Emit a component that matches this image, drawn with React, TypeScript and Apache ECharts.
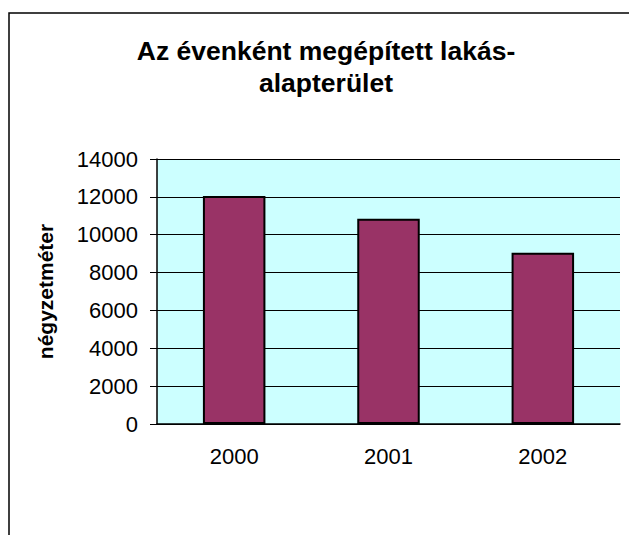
import React, { useEffect, useRef } from "react";
import * as echarts from "echarts";

const categories = ["2000", "2001", "2002"];
const areaValues = [12050, 10850, 9050];
const titleText = "Az évenként megépített lakás-\nalapterület";
const yAxisName = "négyzetméter";

const FONT = "'Liberation Sans', Arial, sans-serif";

export default function App() {
  const ref = useRef<HTMLDivElement>(null);
  useEffect(() => {
    if (!ref.current) return;
    const chart = echarts.init(ref.current, undefined, { renderer: "svg" });
    chart.setOption({
      animation: false,
      backgroundColor: "#ffffff",
      title: {
        text: titleText,
        left: 321,
        top: 30,
        textAlign: "center",
        textStyle: {
          fontFamily: FONT,
          fontSize: 26.5,
          fontWeight: "bold",
          color: "#000",
          lineHeight: 32,
        },
      },
      graphic: [
        {
          type: "rect",
          shape: { x: 9, y: 13, width: 700, height: 700 },
          style: { fill: "none", stroke: "#000", lineWidth: 1.5 },
          silent: true,
          z: -1,
        },
      ],
      grid: {
        left: 157,
        right: 9,
        top: 159,
        bottom: 111,
        show: true,
        backgroundColor: "#CCFFFF",
        borderWidth: 0,
      },
      xAxis: {
        type: "category",
        data: categories,
        axisLine: { show: true, lineStyle: { color: "#000", width: 1.5 } },
        axisTick: { show: false },
        axisLabel: {
          fontFamily: FONT,
          fontSize: 22,
          color: "#000",
          margin: 21,
        },
        splitLine: { show: false },
      },
      yAxis: {
        type: "value",
        min: 0,
        max: 14000,
        interval: 2000,
        name: yAxisName,
        nameLocation: "middle",
        nameGap: 101,
        nameTextStyle: {
          fontFamily: FONT,
          fontSize: 21,
          fontWeight: "bold",
          color: "#000",
        },
        axisLine: { show: true, lineStyle: { color: "#000", width: 1.5 } },
        axisTick: { show: true, length: 7, lineStyle: { color: "#000" } },
        axisLabel: {
          fontFamily: FONT,
          fontSize: 22,
          color: "#000",
          margin: 19,
          formatter: (v: number) => String(v),
        },
        splitLine: { show: true, lineStyle: { color: "#000", width: 1 } },
      },
      series: [
        {
          type: "bar",
          data: areaValues,
          barWidth: "40.5%",
          itemStyle: {
            color: "#993366",
            borderColor: "#000",
            borderWidth: 2,
          },
        },
      ],
    });
    return () => chart.dispose();
  }, []);
  return (
    <div
      ref={ref}
      style={{ position: "fixed", left: 0, top: 0, width: 629, height: 535 }}
    />
  );
}
